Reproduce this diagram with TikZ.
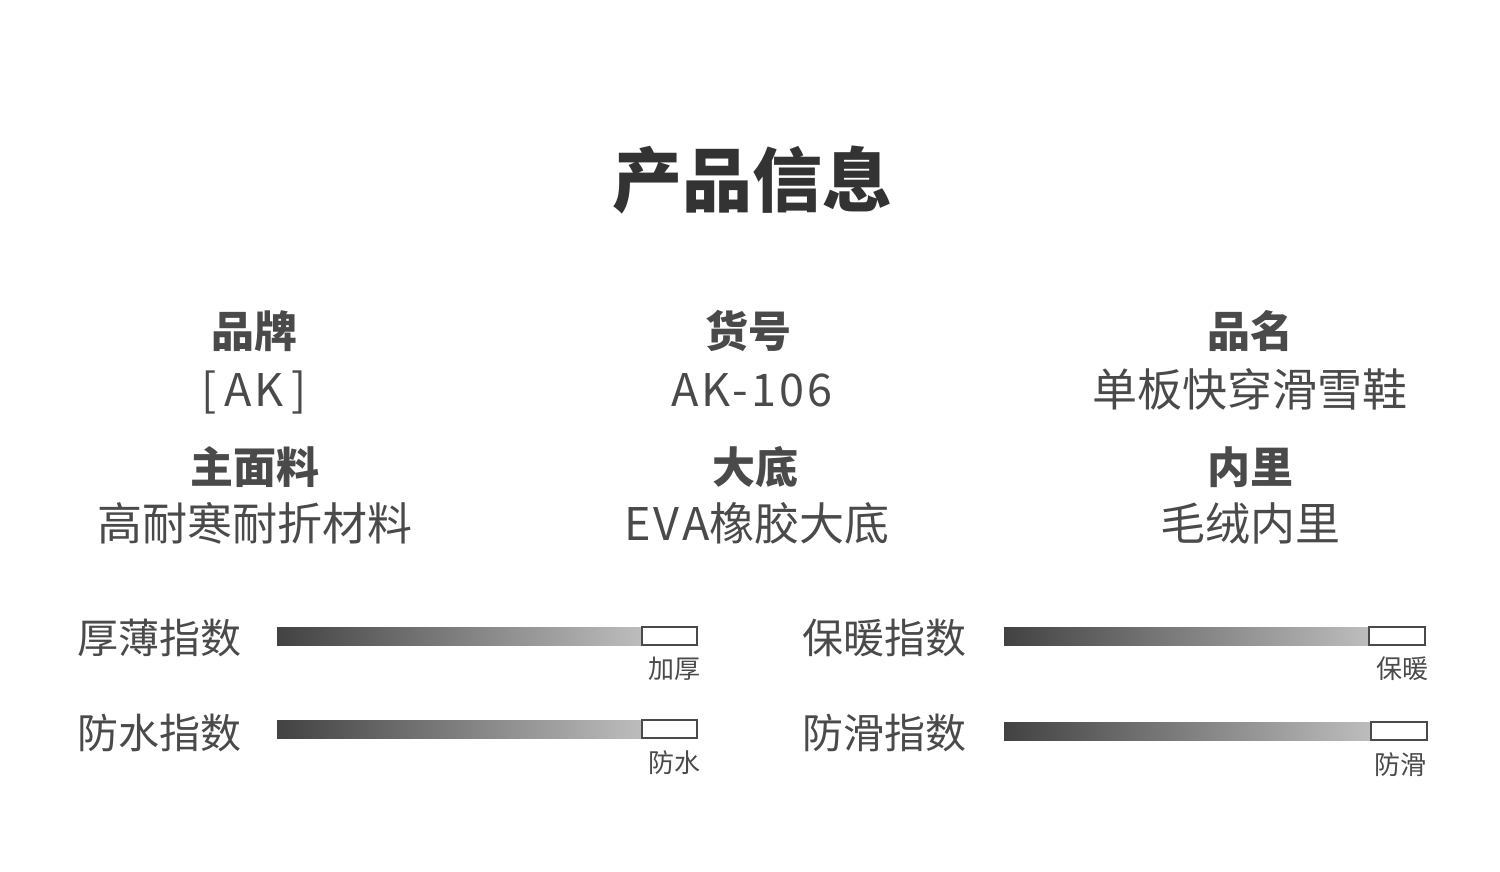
\documentclass[tikz,border=0pt]{standalone}
\usepackage{fontspec}
\setmainfont{Noto Sans CJK SC}
\usetikzlibrary{positioning}

\definecolor{titlegray}{HTML}{333333}
\definecolor{textgray}{HTML}{4A4A4A}
\definecolor{bardark}{HTML}{424242}
\definecolor{barlight}{HTML}{BDBDBD}

\newcommand{\wide}[1]{{\addfontfeature{LetterSpace=7}#1}}

\begin{document}
\begin{tikzpicture}[x=1pt, y=-1pt, every node/.style={inner sep=0pt, anchor=base, text=textgray},
		title/.style={font=\fontsize{70}{80}\selectfont\bfseries, text=titlegray},
		head/.style={font=\fontsize{43}{50}\selectfont\bfseries},
		value/.style={font=\fontsize{45}{52}\selectfont},
		index/.style={font=\fontsize{41}{48}\selectfont, anchor=base west},
		tag/.style={font=\fontsize{26}{30}\selectfont, anchor=base east},
		bar/.style={left color=bardark, right color=barlight},
		endbox/.style={draw=textgray, fill=white, line width=1.5pt}]
		\fill[white] (0,0) rectangle (1500,872);
		\useasboundingbox (0,0) rectangle (1500,872);

		\node[title]	(title) at (752, 207) {产品信息};

		\node[head]		(brand) at (254, 347) {品牌};
		\node[value]	(brandv) at (254, 406) {[\,\wide{AK}\,]};
		\node[head]		(item) at (748, 347) {货号};
		\node[value]	(itemv) at (752, 406) {\wide{AK-106}};
		\node[head]		(name) at (1250, 347) {品名};
		\node[value]	(namev) at (1250, 406) {单板快穿滑雪鞋};

		\node[head]		(upper) at (255, 483) {主面料};
		\node[value]	(upperv) at (255, 540) {高耐寒耐折材料};
		\node[head]		(sole) at (755, 483) {大底};
		\node[value]	(solev) at (757, 540) {\wide{EVA}橡胶大底};
		\node[head]		(lining) at (1250, 483) {内里};
		\node[value]	(liningv) at (1250, 540) {毛绒内里};

		% index bars
		\node[index]	(thick) at (77, 653) {厚薄指数};
		\shade[bar]		(277, 627) rectangle (642, 645);
		\draw[endbox]	(642, 627) rectangle (697, 645);
		\node[tag]		(thickt) at (701, 678) {加厚};

		\node[index]	(water) at (77, 748) {防水指数};
		\shade[bar]		(277, 720) rectangle (642, 738);
		\draw[endbox]	(642, 720) rectangle (697, 738);
		\node[tag]		(watert) at (701, 772) {防水};

		\node[index]	(warm) at (802, 653) {保暖指数};
		\shade[bar]		(1004, 627) rectangle (1369, 645);
		\draw[endbox]	(1369, 627) rectangle (1425, 645);
		\node[tag]		(warmt) at (1429, 678) {保暖};

		\node[index]	(slip) at (802, 748) {防滑指数};
		\shade[bar]		(1004, 722) rectangle (1371, 740);
		\draw[endbox]	(1371, 722) rectangle (1427, 740);
		\node[tag]		(slipt) at (1427, 774) {防滑};
\end{tikzpicture}
\end{document}
